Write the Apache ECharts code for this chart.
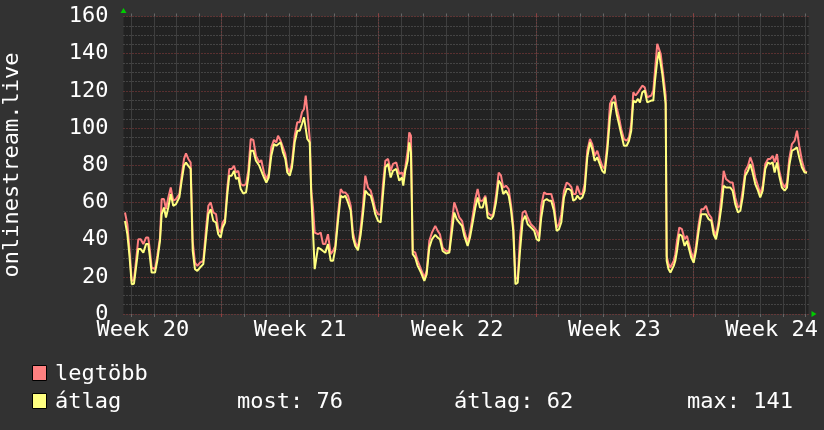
<!DOCTYPE html>
<html><head><meta charset="utf-8">
<script src="https://cdn.jsdelivr.net/npm/echarts@6/dist/echarts.min.js"></script>
<style>html,body{margin:0;padding:0;background:#323232;}#c{width:824px;height:430px;}</style>
</head><body><div id="c"></div><script>
// time in hours from the left edge of the plot
const hours = [1.6,4.1,6.2,8.8,11.2,13.4,15.8,18.4,21.2,24.1,26.5,28.3,30.1,33.7,36.1,39.0,40.8,43.3,45.4,47.9,50.5,53.2,56.1,59.7,62.2,64.7,66.8,69.3,71.8,74.0,76.4,78.9,81.8,85.3,88.2,90.7,93.2,96.0,98.9,101.3,103.9,106.0,108.5,111.0,113.1,115.7,118.1,120.3,122.7,125.3,128.1,131.0,133.4,136.0,138.8,141.6,145.2,
147.3,150.2,152.7,155.2,158.0,160.9,163.3,165.2,168.0,170.5,173.0,175.1,177.7,180.1,183.0,185.8,188.4,190.8,193.0,194.8,196.5,199.1,200.8,202.6,204.4,207.9,210.8,213.3,215.7,218.6,221.5,224.0,226.4,229.3,232.2,234.6,237.1,240.0,242.9,245.3,247.8,250.7,253.6,256.0,258.5,261.4,264.3,266.7,269.2,272.1,274.9,277.4,279.9,282.8,285.6,288.1,291.6,
294.8,297.7,299.1,301.2,303.8,305.5,307.3,309.2,311.9,314.5,318.0,321.6,324.1,326.9,329.8,333.3,335.9,338.3,341.2,344.8,348.3,351.2,353.6,356.2,359.0,361.9,364.3,367.9,370.4,373.3,376.1,378.6,381.1,384.0,386.8,389.3,392.9,395.3,398.2,401.1,403.6,406.0,408.9,411.8,414.2,416.7,419.0,421.4,423.9,426.7,429.5,432.1,435.6,439.1,
441.7,444.2,446.6,449.5,452.4,454.9,457.3,460.2,463.1,465.5,468.0,470.9,473.8,476.2,478.7,480.8,483.4,485.1,488.0,490.5,493.0,495.8,498.7,501.1,503.7,506.5,509.1,511.8,514.4,517.2,520.1,522.5,525.1,527.2,529.7,532.1,535.0,537.9,540.4,542.8,545.0,547.5,550.0,552.1,554.6,557.2,559.9,561.8,564.2,566.4,568.2,570.6,572.4,574.3,576.0,577.8,579.6,580.7,582.6,584.7,
586.4,588.2,589.9,591.7,594.2,597.0,599.9,602.4,604.2,607.0,609.5,612.0,614.9,617.7,620.2,622.7,625.6,628.4,630.9,633.4,636.3,639.1,641.6,644.1,646.2,648.7,651.2,654.0,656.9,659.4,661.9,664.7,667.6,670.1,672.6,675.4,678.3,680.7,683.3,686.1,689.0,691.4,694.0,696.1,698.6,701.0,703.9,706.8,709.3,711.7,714.6,717.5,720.0,722.4,725.3,728.2,730.7];

const avgValues = [50,43,32.3,16,16.3,25.1,34.9,34.9,33,37.6,37.6,30.3,22.3,22.3,28.6,39.3,53.7,57.3,51.9,57.3,64.5,58.2,59.1,62.7,71.7,79.7,81.5,79.7,78,33.9,24.1,23.2,25,26.8,41.1,53.7,56.4,50.1,49.2,42.9,41.1,46.5,49.2,64.5,74.4,74.4,77,72.6,73.4,67.2,64.8,65.4,73.4,87.8,87.8,82.4,79.7,
80.7,73.4,70.7,73.4,85.1,91.4,90.5,89.6,92.3,86.9,83.4,76.1,74.4,78.8,92.3,98.6,98.6,102.2,105.8,105.8,94.1,92.3,62.7,44.7,24.1,35.7,34.9,33.9,33,37.6,28.6,28.6,34.9,50.1,63.6,62.7,63.6,60,55.5,41.1,36.6,34.3,42.9,53.7,66.3,64.5,63.6,59.1,53.7,50.1,49.2,64.5,78.8,80.7,73.4,77,78,
71.7,73.4,69,77,82.4,92.3,86.9,32.2,30.3,25.9,22.3,17.8,21.4,35.7,40.2,42.6,41.1,40.2,33.9,32.5,33,44.7,54.6,51,49.2,47.4,42,36.6,41.1,49.2,57.3,62.7,57.3,57.3,62.7,51.9,51,52.8,60,71.7,69.9,64.5,66.3,63.6,56.4,44.7,16,16.9,33.9,50.1,52.8,48.3,46.5,44.7,
40.2,39.3,51.9,60.9,61.8,60.9,60.9,55.5,44.7,45.6,49.2,62.7,67.2,67.2,66.3,60.9,61.8,63.6,61.8,62.7,66.3,84.2,92.3,88.7,82.4,84.2,80.7,77,75.6,87.8,105.8,113.8,113.8,107.6,102.2,96.8,90.5,90.5,93.2,98.6,114.8,113.8,115.7,113.8,119.2,120.2,113.8,113,114.8,114.8,125.5,136.3,141,134.5,129.2,121.1,113,28.6,24.2,22.3,
22.3,25.9,28.6,33.9,42.9,42,36.6,39.3,39.3,30.3,27.6,33.9,44.7,53.7,53.7,53.7,51,50.1,42.9,40.2,47.4,57.3,69,68,67.2,68,66.3,59.1,54.6,55.5,62.7,74.4,77,80.7,76.1,69.9,66.3,62.7,66.3,78,81.5,80.7,81.5,76.1,81.5,74.4,68,66.3,68,79.7,87.8,88.7,89.6,84.2,78.8,76.1,76];

const maxValues = [54.6,48.3,36,17.8,18.3,28.6,40.2,40.2,37.6,41.1,41.1,33.9,25,24.1,31.2,41.1,61.8,61.8,56.4,62.7,68,60.9,61.8,64.5,74.4,83.4,86.4,83.4,81.5,39,27.6,25.9,27.6,28.6,45.6,58.2,60,54.6,53.7,45.6,43.8,49.2,51,68,78,78,79.7,76.1,77,69.9,69,69.9,77,94.1,93.6,85.1,81.5,
82.8,76.1,72.6,75.3,89.6,93.6,92.3,95.9,93.2,89.6,86,78.8,76.1,81.5,95.9,103.1,103.1,108.5,110.3,117.5,109.4,94.1,66.3,57.3,43.8,42.9,43.8,37.6,37.6,42.9,32.2,33.9,36.6,53.7,67.2,65.4,65.4,63.6,58.2,43.8,38.4,35.7,46.5,58.2,74.4,68,66.3,61.8,56.4,53.7,53.3,69.9,82.4,83.4,77,80.7,81.5,
75.3,76.1,73.4,78.8,87.8,97.7,95.9,33.9,33,28.6,24.1,19.6,23.2,39.3,43.8,47.4,44.7,42.9,35.7,33.9,33.9,50.1,60,56.4,51.9,50.1,44.7,38.4,43.8,52.8,61.8,67.2,60.9,60.9,63.6,54.6,52.8,53.7,63.6,76.1,74.4,68,69,67.2,59.1,47.4,19.6,18.7,41.1,54.6,55.5,51.9,48.3,46.5,
44.7,41.1,58.2,65.4,64.5,64.5,64.5,59.1,46.5,48.3,53.7,66.3,70.7,69.9,68.4,64.5,64.5,69,64.5,64.5,69.9,87.8,94.1,91.4,85.1,87.8,83.4,79.7,78,91.4,113,115.7,117.5,111.2,105.8,99.5,94.1,93.2,95,102.2,119.2,117.5,119.2,118.4,122.8,121.9,116.5,115.7,117.5,120.2,130.9,145.3,144.4,139.9,132.7,125.5,117.5,31.2,27,25,
25,28.6,32.2,39.3,46.5,45.6,40.2,42,42,33,29.5,36.6,48.3,56.4,56.4,58.2,53.7,51.9,45.6,42,50.1,62.7,77,72.6,71.7,70.7,70.7,62.7,57.3,58.2,66.3,77,79.7,84.2,80.7,73.4,69,64.5,69,80.7,83.4,83.4,85.1,81.5,86,77,70.7,68,70.7,83.4,91.4,93.2,98.6,90.5,82.4,77,76.1];

const weekLabels = ['Week 20', 'Week 21', 'Week 22', 'Week 23', 'Week 24'];
const seriesNames = ['legtöbb', 'átlag'];
const seriesColors = ['#ff8080', '#ffff80'];
const statLabels = ['most', 'átlag', 'max'];
const statValues = [76, 62, 141];
const yAxisTitle = 'onlinestream.live';

// day grid lines (31 day boundaries) and week grid lines (4 week boundaries)
const dayTicks = Array.from({length: 31}, (_, i) => String(i));
const weekTicks = ['0', '7', '14', '21'];

const FONT = '"DejaVu Sans Mono", monospace';
const GRID_TOP = 16.5, GRID_BOTTOM = 116;
const minorColor = '#666666', majorColor = '#923e3e';

const chart = echarts.init(document.getElementById('c'), null, {renderer: 'canvas'});

const hiddenY = (i) => ({gridIndex: i, type: 'value', min: 0, max: 1, show: false});
const gridAxis = (gi, data, pos, color, split, lineColor, dash) => ({
  gridIndex: gi, type: 'category', data: data, boundaryGap: false, position: pos, z: 1,
  axisLine: {show: false},
  axisTick: {show: true, interval: 0, length: 3, lineStyle: {color: color}},
  axisLabel: {show: false},
  splitLine: {show: split, interval: 0, lineStyle: {color: lineColor, width: 1, type: dash}}
});

chart.setOption({
  animation: false,
  backgroundColor: '#323232',
  grid: [
    {left: 123.5, right: 15.5, top: GRID_TOP, bottom: GRID_BOTTOM, show: true, backgroundColor: '#222222', borderWidth: 0, z: 0},
    {left: 131.7, right: 18.8, top: GRID_TOP, bottom: GRID_BOTTOM, z: 1},
    {left: 221.5, right: 131.05, top: GRID_TOP, bottom: GRID_BOTTOM, z: 1},
    {left: 142.9, right: 52.4, top: GRID_TOP, bottom: GRID_BOTTOM, z: 1}
  ],
  xAxis: [
    {gridIndex: 0, type: 'value', min: 0, max: 732.3, z: 1,
     axisLine: {show: true, onZero: false, symbol: ['none', 'triangle'], symbolSize: [6, 5], symbolOffset: [0, 5.5], lineStyle: {color: '#00cc00', width: 0}},
     axisTick: {show: false}, axisLabel: {show: false}, splitLine: {show: false}},
    gridAxis(1, dayTicks, 'bottom', minorColor, true, '#3e3e3e', 'solid'),
    gridAxis(1, dayTicks, 'top', minorColor, false, '#3e3e3e', 'solid'),
    gridAxis(2, weekTicks, 'bottom', majorColor, true, majorColor, [1, 2]),
    gridAxis(2, weekTicks, 'top', majorColor, false, majorColor, [1, 2]),
    {gridIndex: 3, type: 'value', min: 0, max: 4, interval: 1, position: 'bottom', z: 1,
     axisLine: {show: false}, axisTick: {show: false}, splitLine: {show: false},
     axisLabel: {show: true, showMinLabel: true, showMaxLabel: true, color: '#ffffff', fontSize: 22, fontFamily: FONT, margin: 5,
                 formatter: (v) => weekLabels[Math.round(v)]}}
  ],
  yAxis: [
    {gridIndex: 0, type: 'value', min: 0, max: 160, interval: 20, z: 1,
     axisLine: {show: true, onZero: false, symbol: ['none', 'triangle'], symbolSize: [6, 5], symbolOffset: [0, 6], lineStyle: {color: '#00cc00', width: 0}},
     axisTick: {show: false},
     axisLabel: {color: '#ffffff', fontSize: 22, fontFamily: FONT, margin: 15},
     splitLine: {show: true, lineStyle: {color: majorColor, type: [1, 2]}},
     minorTick: {show: false, splitNumber: 4},
     minorSplitLine: {show: true, lineStyle: {color: minorColor, type: [1, 2]}}},
    hiddenY(1), hiddenY(2), hiddenY(3)
  ],
  series: [
    {name: seriesNames[0], type: 'line', xAxisIndex: 0, yAxisIndex: 0, showSymbol: false, symbol: 'none',
     lineStyle: {color: seriesColors[0], width: 2}, itemStyle: {color: seriesColors[0]},
     data: hours.map((h, i) => [h, maxValues[i]]), z: 3},
    {name: seriesNames[1], type: 'line', xAxisIndex: 0, yAxisIndex: 0, showSymbol: false, symbol: 'none',
     lineStyle: {color: seriesColors[1], width: 2}, itemStyle: {color: seriesColors[1]},
     data: hours.map((h, i) => [h, avgValues[i]]), z: 4}
  ],
  graphic: [
    {type: 'text', x: 12, y: 165, rotation: Math.PI / 2,
     style: {text: yAxisTitle, fill: '#ffffff', font: '22px ' + FONT, align: 'center', verticalAlign: 'middle'}},
    {type: 'rect', shape: {x: 32.5, y: 365.5, width: 14, height: 15}, style: {fill: seriesColors[0], stroke: '#000000', lineWidth: 1}},
    {type: 'rect', shape: {x: 32.5, y: 393.5, width: 14, height: 15}, style: {fill: seriesColors[1], stroke: '#000000', lineWidth: 1}},
    {type: 'text', x: 55, y: 374, style: {text: seriesNames[0], fill: '#ffffff', font: '22px ' + FONT, verticalAlign: 'middle'}},
    {type: 'text', x: 55, y: 402, style: {text: seriesNames[1], fill: '#ffffff', font: '22px ' + FONT, verticalAlign: 'middle'}},
    {type: 'text', x: 237, y: 402, style: {text: statLabels[0] + ': ' + statValues[0], fill: '#ffffff', font: '22px ' + FONT, verticalAlign: 'middle'}},
    {type: 'text', x: 454, y: 402, style: {text: statLabels[1] + ': ' + statValues[1], fill: '#ffffff', font: '22px ' + FONT, verticalAlign: 'middle'}},
    {type: 'text', x: 687, y: 402, style: {text: statLabels[2] + ': ' + statValues[2], fill: '#ffffff', font: '22px ' + FONT, verticalAlign: 'middle'}}
  ]
});
</script></body></html>
